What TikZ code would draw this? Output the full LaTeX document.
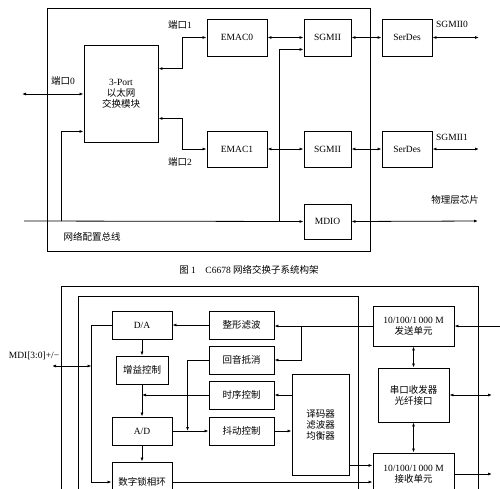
\documentclass[tikz,border=0pt]{standalone}
\usepackage{fontspec}
\setmainfont{Liberation Serif}
\newfontfamily\cjk{Noto Sans CJK SC}
\newcommand{\zh}[1]{{\cjk #1}}
\usetikzlibrary{arrows.meta}

\begin{document}
\begin{tikzpicture}[
    x=1pt, y=-1pt,
    font=\fontsize{9.5}{11}\selectfont,
    blk/.style={draw, line width=0.9pt, align=center, inner sep=1pt},
    link/.style={line width=0.8pt, -{Latex[length=4pt,width=3pt]}},
    duplex/.style={line width=0.8pt, {Latex[length=4pt,width=3pt]}-{Latex[length=4pt,width=3pt]}},
    frame/.style={line width=1pt}
  ]
    \clip (0,0) rectangle (500,488);

    % Figure 1: switch subsystem
    \draw[frame] (47,8) rectangle (370,251);

    \node[blk, minimum width=74, minimum height=97] (sw) at (121,93.5)
      {3-Port\\\zh{以太网}\\\zh{交换模块}};
    \node[blk, minimum width=60, minimum height=37] (emac0) at (237,37.5) {EMAC0};
    \node[blk, minimum width=60, minimum height=36] (emac1) at (237,149) {EMAC1};
    \node[blk, minimum width=47, minimum height=37] (sgmii0) at (327.5,37.5) {SGMII};
    \node[blk, minimum width=47, minimum height=36] (sgmii1) at (327.5,149) {SGMII};
    \node[blk, minimum width=47, minimum height=35] (mdio) at (327.5,221.5) {MDIO};
    \node[blk, minimum width=50, minimum height=37] (serdes0) at (407,37.5) {SerDes};
    \node[blk, minimum width=50, minimum height=36] (serdes1) at (407,149) {SerDes};

    \coordinate (p0) at (22,94);
    \coordinate (busL) at (24,221);
    \coordinate (busA) at (61,221);
    \coordinate (busB) at (279,221);
    \coordinate (mdioR) at (478,221);
    \coordinate (out0) at (479,37.5);
    \coordinate (out1) at (479,149);

    \draw[duplex] (p0) -- (p0 -| sw.west);
    \draw[link] (busL) -- (mdio.west);
    \draw[duplex] (mdio.east) -- (mdioR);
    \draw[link] (busA) |- ([yshift=11pt]sw.south west);
    \draw[link] (busB) |- ([yshift=7pt]sgmii0.south west);
    \draw[duplex] ([yshift=-24pt]sw.north east) -- ++(24,0) |- (emac0.west);
    \draw[duplex] ([yshift=24pt]sw.south east) -- ++(24,0) |- (emac1.west);
    \draw[duplex] (emac0) -- (sgmii0);
    \draw[duplex] (emac1) -- (sgmii1);
    \draw[duplex] (sgmii0) -- (serdes0);
    \draw[duplex] (sgmii1) -- (serdes1);
    \draw[duplex] (serdes0) -- (out0);
    \draw[duplex] (serdes1) -- (out1);

    \node (lp0) at (63,81) {\zh{端口}0};
    \node (lp1) at (180,25) {\zh{端口}1};
    \node (lp2) at (180,162) {\zh{端口}2};
    \node (lo0) at (452,24) {SGMII0};
    \node (lo1) at (452,137) {SGMII1};
    \node (lphy) at (455,200) {\zh{物理层芯片}};
    \node (lbus) at (92,237) {\zh{网络配置总线}};
    \node (cap) at (249,270) {\zh{图} 1\quad C6678 \zh{网络交换子系统构架}};

    % Figure 2: PHY transceiver
    \draw[frame] (61,286) rectangle (478,520);
    \draw[frame] (78,296) rectangle (358,520);

    \node[blk, minimum width=60, minimum height=28] (da) at (142,325) {D/A};
    \node[blk, minimum width=52, minimum height=28] (gain) at (142,370) {\zh{增益控制}};
    \node[blk, minimum width=60, minimum height=28] (ad) at (142,431) {A/D};
    \node[blk, minimum width=60, minimum height=40] (dpll) at (142,482) {\zh{数字锁相环}};
    \node[blk, minimum width=65, minimum height=28] (shape) at (241.5,325) {\zh{整形滤波}};
    \node[blk, minimum width=65, minimum height=28] (echo) at (241.5,360) {\zh{回音抵消}};
    \node[blk, minimum width=65, minimum height=28] (timing) at (241.5,395) {\zh{时序控制}};
    \node[blk, minimum width=65, minimum height=28] (jitter) at (241.5,431) {\zh{抖动控制}};
    \node[blk, minimum width=57, minimum height=101] (dec) at (320.5,424.5)
      {\zh{译码器}\\\zh{滤波器}\\\zh{均衡器}};
    \node[blk, minimum width=81, minimum height=40] (tx) at (413.5,326)
      {10/100/1\,000 M\\\zh{发送单元}};
    \node[blk, minimum width=71, minimum height=54] (sfp) at (413.5,395)
      {\zh{串口收发器}\\\zh{光纤接口}};
    \node[blk, minimum width=81, minimum height=42] (rx) at (413.5,474)
      {10/100/1\,000 M\\\zh{接收单元}};

    \coordinate (mdi) at (52,366);
    \coordinate (txin) at (500,326);
    \coordinate (sfpR) at (492,395);
    \coordinate (rxR) at (492,474);
    \coordinate (split) at (301,326);

    \draw[link] (tx.west) -- (tx.west -| shape.east);
    \draw[link] (split) |- (echo.east);
    \draw[link] (txin) -- (tx.east);
    \draw[duplex] (tx) -- (sfp);
    \draw[duplex] (sfp) -- (rx);
    \draw[duplex] (sfp.east) -- (sfpR);
    \draw[link] (rx.east |- rxR) -- (rxR);
    \draw[link] ([yshift=10pt]dec.south east) coordinate (d1) -- (d1 -| rx.west);
    \draw[link] (dpll.east) -- (dpll.east -| rx.west);
    \draw[link] (dec.west |- timing.east) -- (timing.east);
    \draw[link] (jitter.east) -- (jitter.east -| dec.west);
    \draw[link] (shape.west) -- (shape.west -| da.east);
    \draw[link] (da) -- (gain);
    \draw[link] (gain) -- (ad);
    \draw[link] (ad) -- (dpll);
    \draw[link] (timing.west) -- (timing.west -| gain.south);
    \draw[link] (ad.east) -- (ad.east -| jitter.west);
    \draw[link] (echo.west) -| ([xshift=-21pt]jitter.west);
    \draw[link] (da.west) -- ++(-20,0) coordinate (loop) |- (dpll.west);
    \draw[duplex] (mdi) -- (mdi -| loop);

    \node (lmdi) at (34,356) {MDI[3:0]+/\textminus};
\end{tikzpicture}
\end{document}
